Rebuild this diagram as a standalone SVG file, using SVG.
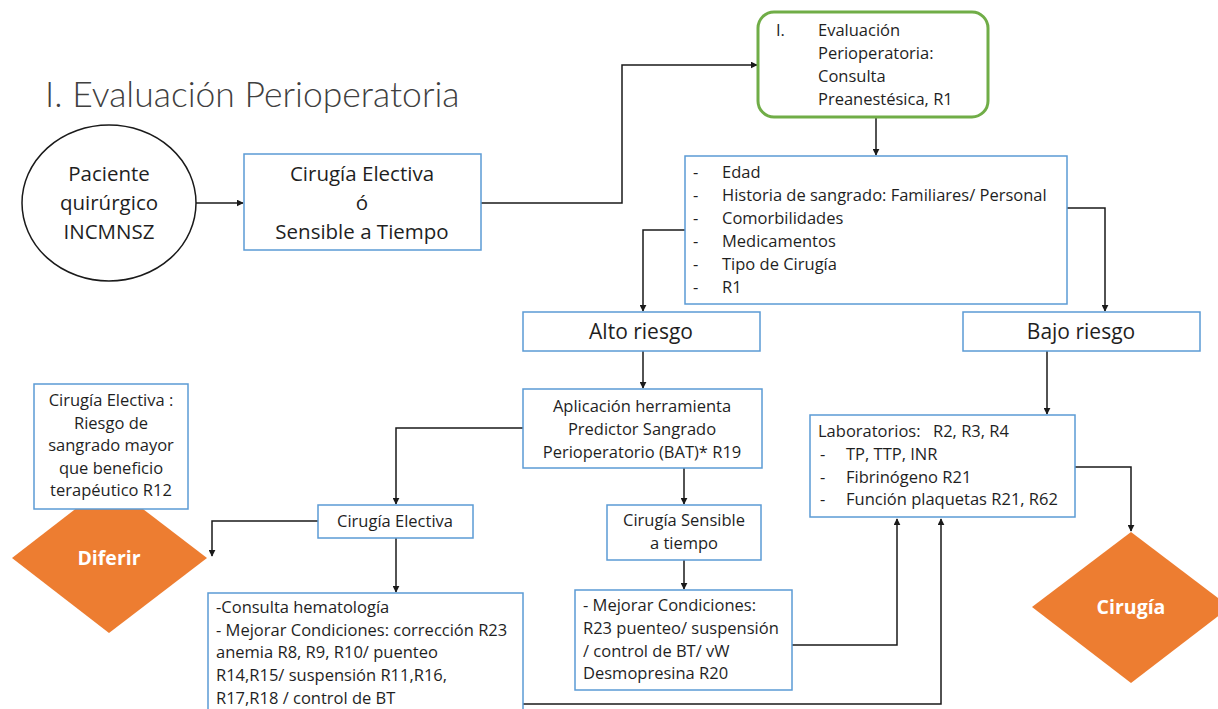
<svg xmlns="http://www.w3.org/2000/svg" width="1218" height="709" viewBox="0 0 1218 709">
<style>
text{font-family:"Open Sans","Noto Sans","Liberation Sans",sans-serif;fill:#1f1f1f;}
.box{fill:#fff;stroke:#5B9BD5;stroke-width:1.5;}
.c{text-anchor:middle;}
.t15{font-size:16.5px;}
.t16{font-size:16.5px;}
.t19{font-size:20.5px;}
.t20{font-size:21px;}
.wb{fill:#fff;font-weight:bold;font-size:19.5px;text-anchor:middle;}
.ln{fill:none;stroke:#1a1a1a;stroke-width:1.5;marker-end:url(#ah);}
.dia{fill:#ED7D31;}
</style>
<defs>
<marker id="ah" viewBox="0 0 10 10" refX="9" refY="5" markerWidth="7" markerHeight="7" markerUnits="userSpaceOnUse" orient="auto">
<path d="M0,0 L10,5 L0,10 z" fill="#1a1a1a"/>
</marker>
</defs>
<rect width="1218" height="709" fill="#fff"/>
<text x="45" y="107" style="font-family:Lato,'Open Sans',sans-serif;font-size:35.5px;font-weight:300;fill:#404040">I. Evaluación Perioperatoria</text>

<g id="connectors">
<path class="ln" d="M196,203 H243"/>
<path class="ln" d="M481,203 H622 V65 H757"/>
<path class="ln" d="M876,118 V155"/>
<path class="ln" d="M685,230 H643 V311"/>
<path class="ln" d="M1067,208 H1105 V311"/>
<path class="ln" d="M643,351 V388"/>
<path class="ln" d="M1047,351 V414"/>
<path class="ln" d="M523,428 H396 V504"/>
<path class="ln" d="M684,468 V504"/>
<path class="ln" d="M318,521 H212 V556"/>
<path class="ln" d="M396,538 V592"/>
<path class="ln" d="M684,560 V589"/>
<path class="ln" d="M792,645 H897 V519"/>
<path class="ln" d="M523,704 H941 V519"/>
<path class="ln" d="M1075,467 H1131 V531"/>
</g>

<g id="paciente">
<ellipse cx="109" cy="203" rx="87" ry="78" fill="#fff" stroke="#1a1a1a" stroke-width="1.5"/>
<text class="c t19" x="109" y="181">Paciente</text>
<text class="c t19" x="109" y="210">quirúrgico</text>
<text class="c t19" x="109" y="239">INCMNSZ</text>
</g>

<g id="cirugia-electiva-sensible">
<rect class="box" x="244" y="154" width="237" height="96"/>
<text class="c t19" x="362" y="181">Cirugía Electiva</text>
<text class="c t19" x="362" y="210">ó</text>
<text class="c t19" x="362" y="239">Sensible a Tiempo</text>
</g>

<g id="evaluacion">
<rect x="758" y="12" width="230" height="105" rx="16" fill="#fff" stroke="#70AD47" stroke-width="3"/>
<text class="t15" x="776" y="36">I.</text>
<text class="t15" x="818" y="36">Evaluación</text>
<text class="t15" x="818" y="59">Perioperatoria:</text>
<text class="t15" x="818" y="82">Consulta</text>
<text class="t15" x="818" y="105">Preanestésica, R1</text>
</g>

<g id="lista">
<rect class="box" x="685" y="156" width="382" height="148"/>
<g class="t15">
<text x="693" y="178">-</text><text x="722" y="178">Edad</text>
<text x="693" y="201">-</text><text x="722" y="201">Historia de sangrado: Familiares/ Personal</text>
<text x="693" y="224">-</text><text x="722" y="224">Comorbilidades</text>
<text x="693" y="247">-</text><text x="722" y="247">Medicamentos</text>
<text x="693" y="270">-</text><text x="722" y="270">Tipo de Cirugía</text>
<text x="693" y="293">-</text><text x="722" y="293">R1</text>
</g>
</g>

<g id="alto-riesgo">
<rect class="box" x="523" y="312" width="237" height="39"/>
<text class="c t20" x="641" y="339">Alto riesgo</text>
</g>

<g id="bajo-riesgo">
<rect class="box" x="963" y="312" width="237" height="39"/>
<text class="c t20" x="1081" y="339">Bajo riesgo</text>
</g>

<g id="aplicacion">
<rect class="box" x="523" y="389" width="239" height="79"/>
<text class="c t15" x="642" y="412">Aplicación herramienta</text>
<text class="c t15" x="642" y="435">Predictor Sangrado</text>
<text class="c t15" x="642" y="458">Perioperatorio (BAT)* R19</text>
</g>

<g id="diferir">
<polygon class="dia" points="12,558 109,483 207,558 109,633"/>
<text class="wb" x="109" y="565">Diferir</text>
</g>

<g id="riesgo-r12">
<rect class="box" x="34" y="384" width="154" height="125"/>
<text class="c t15" x="111" y="406">Cirugía Electiva :</text>
<text class="c t15" x="111" y="429">Riesgo de</text>
<text class="c t15" x="111" y="451">sangrado mayor</text>
<text class="c t15" x="111" y="474">que beneficio</text>
<text class="c t15" x="111" y="496">terapéutico R12</text>
</g>

<g id="cirugia-electiva">
<rect class="box" x="318" y="505" width="155" height="33"/>
<text class="c t15" x="395" y="527">Cirugía Electiva</text>
</g>

<g id="cirugia-sensible">
<rect class="box" x="607" y="505" width="154" height="55"/>
<text class="c t15" x="684" y="526">Cirugía Sensible</text>
<text class="c t15" x="684" y="549">a tiempo</text>
</g>

<g id="hematologia">
<rect class="box" x="208" y="593" width="315" height="130"/>
<g class="t16">
<text x="216" y="613">-Consulta hematología</text>
<text x="216" y="636">- Mejorar Condiciones: corrección R23</text>
<text x="216" y="658">anemia R8, R9, R10/ puenteo</text>
<text x="216" y="681">R14,R15/ suspensión R11,R16,</text>
<text x="216" y="704">R17,R18 / control de BT</text>
</g>
</g>

<g id="mejorar">
<rect class="box" x="575" y="590" width="217" height="100"/>
<g class="t15">
<text x="583" y="611">- Mejorar Condiciones:</text>
<text x="583" y="634">R23 puenteo/ suspensión</text>
<text x="583" y="657">/ control de BT/ vW</text>
<text x="583" y="679">Desmopresina R20</text>
</g>
</g>

<g id="laboratorios">
<rect class="box" x="810" y="415" width="265" height="102"/>
<g class="t15">
<text x="818" y="437">Laboratorios:</text><text x="933" y="437">R2, R3, R4</text>
<text x="820" y="460">-</text><text x="846" y="460">TP, TTP, INR</text>
<text x="820" y="483">-</text><text x="846" y="483">Fibrinógeno R21</text>
<text x="820" y="505">-</text><text x="846" y="505">Función plaquetas R21, R62</text>
</g>
</g>

<g id="cirugia">
<polygon class="dia" points="1032,607 1131,532 1230,607 1131,683"/>
<text class="wb" x="1131" y="614">Cirugía</text>
</g>
</svg>
